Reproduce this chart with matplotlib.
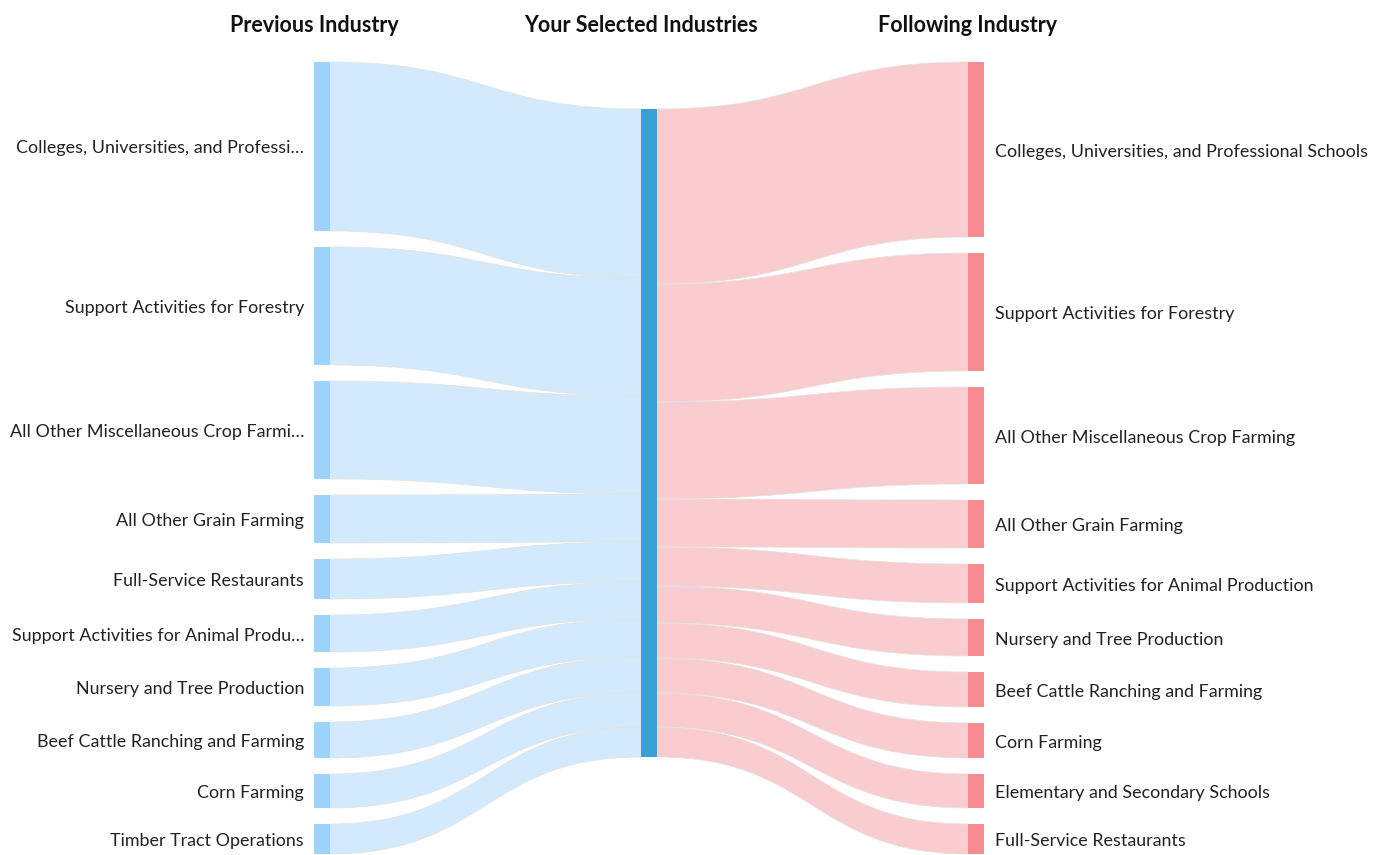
import matplotlib as mpl
import matplotlib.pyplot as plt
import numpy as np
from matplotlib.path import Path
from matplotlib.patches import PathPatch, Rectangle

mpl.rcParams['font.family'] = ['Lato', 'DejaVu Sans']

# data (node sizes, flows in order)
prev_labels = ['Colleges, Universities, and Professi\u2026',
               'Support Activities for Forestry',
               'All Other Miscellaneous Crop Farmi\u2026',
               'All Other Grain Farming',
               'Full-Service Restaurants',
               'Support Activities for Animal Produ\u2026',
               'Nursery and Tree Production',
               'Beef Cattle Ranching and Farming',
               'Corn Farming',
               'Timber Tract Operations']
prev_vals = [169, 118, 98, 48, 40, 37, 38, 36, 34, 30]

next_labels = ['Colleges, Universities, and Professional Schools',
               'Support Activities for Forestry',
               'All Other Miscellaneous Crop Farming',
               'All Other Grain Farming',
               'Support Activities for Animal Production',
               'Nursery and Tree Production',
               'Beef Cattle Ranching and Farming',
               'Corn Farming',
               'Elementary and Secondary Schools',
               'Full-Service Restaurants']
next_vals = [175, 118, 97, 48, 39, 37, 35, 35, 34, 30]

headers = ['Previous Industry', 'Your Selected Industries', 'Following Industry']

# layout (pixels)
W, H = 1380, 855
node_w = 16
gap = 16
top = 62
center_top = 109
x_left, x_mid, x_right = 314, 641, 968
scale = 648.0 / sum(prev_vals)

c_left_node = '#9cd4fb'
c_left_flow = '#d2eafc'
c_mid = '#3a9fd3'
c_right_node = '#f98c91'
c_right_flow = '#f9cdd0'

fig = plt.figure(figsize=(W / 100, H / 100), dpi=100)
ax = fig.add_axes([0, 0, 1, 1])
ax.set_xlim(0, W)
ax.set_ylim(H, 0)
ax.axis('off')


def ribbon(x0, y0a, y0b, x1, y1a, y1b, color):
    xm = (x0 + x1) / 2.0
    verts = [(x0, y0a), (xm, y0a), (xm, y1a), (x1, y1a),
             (x1, y1b), (xm, y1b), (xm, y0b), (x0, y0b), (x0, y0a)]
    codes = [Path.MOVETO, Path.CURVE4, Path.CURVE4, Path.CURVE4,
             Path.LINETO, Path.CURVE4, Path.CURVE4, Path.CURVE4, Path.CLOSEPOLY]
    ax.add_patch(PathPatch(Path(verts, codes), facecolor=color,
                           edgecolor='#e2e2e2', lw=0.5, zorder=1))


def column(vals, y_start):
    ys = []
    y = y_start
    for v in vals:
        h = v * scale
        ys.append((y, y + h))
        y += h + gap
    return ys


left_ys = column(prev_vals, top)
right_ys = column(next_vals, top)

# left flows into center
y = center_top
for (a, b) in left_ys:
    h = b - a
    ribbon(x_left + node_w, a, b, x_mid, y, y + h, c_left_flow)
    y += h
# center to right flows
y = center_top
for (a, b) in right_ys:
    h = b - a
    ribbon(x_mid + node_w, y, y + h, x_right, a, b, c_right_flow)
    y += h

for (a, b), lab in zip(left_ys, prev_labels):
    ax.add_patch(Rectangle((x_left, a), node_w, b - a, color=c_left_node, lw=0, zorder=2))
    ax.text(x_left - 10, (a + b) / 2 + 2, lab, ha='right', va='center',
            fontsize=12.9, color='#222222')
for (a, b), lab in zip(right_ys, next_labels):
    ax.add_patch(Rectangle((x_right, a), node_w, b - a, color=c_right_node, lw=0, zorder=2))
    ax.text(x_right + node_w + 11, (a + b) / 2 + 2, lab, ha='left', va='center',
            fontsize=12.9, color='#222222')

ax.add_patch(Rectangle((x_mid, center_top), node_w, sum(prev_vals) * scale,
                       color=c_mid, lw=0, zorder=2))

for xh, t in zip([x_left, x_mid, x_right], headers):
    ax.text(xh, 26, t, ha='center', va='center', fontsize=15.5,
            fontweight='bold', color='#111111')

fig.savefig('out.png', dpi=100)
